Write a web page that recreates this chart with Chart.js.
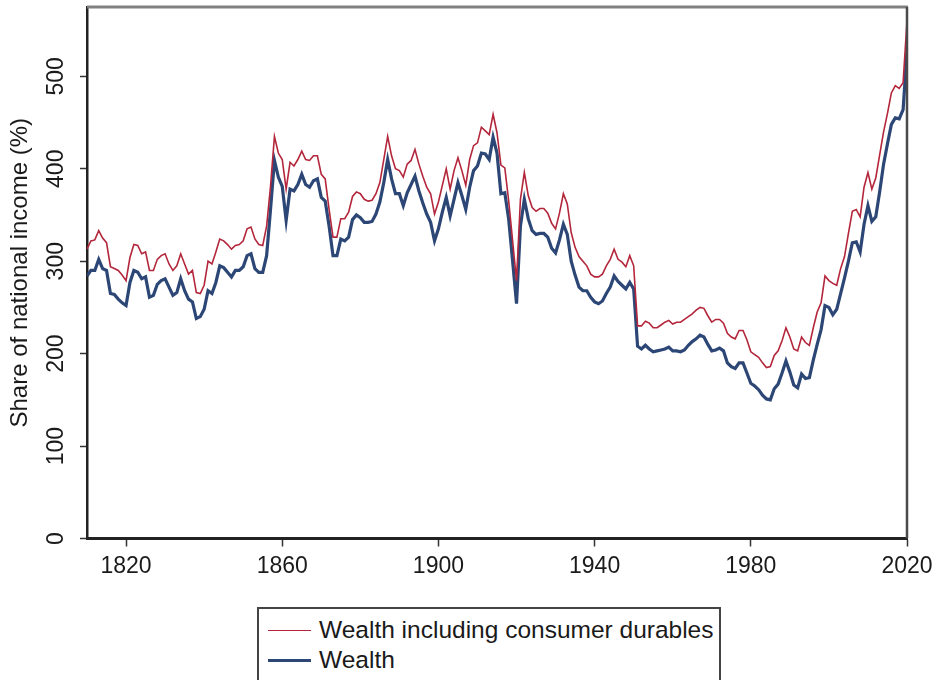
<!DOCTYPE html>
<html lang="en">
<head>
    <meta charset="UTF-8">
    <title>Wealth as share of national income</title>
    <script src="https://cdn.jsdelivr.net/npm/chart.js"></script>
    <style>
        body {
            margin: 0;
            width: 939px;
            height: 680px;
            overflow: hidden;
            background: #ffffff;
            font-family: 'Liberation Sans', Arial, sans-serif;
        }
        #wrap {
            position: absolute;
            left: 0;
            top: 0;
            width: 939px;
            height: 600px;
        }
        /* Legend box below the plot, cut off by the window like the original */
        #legend {
            position: absolute;
            left: 257px;
            top: 607px;
            width: 464px;
            height: 90px;
            border: 2px solid #444;
            box-sizing: border-box;
            padding-top: 6px;
        }
        .item {
            display: flex;
            align-items: center;
            height: 30px;
            font-size: 24.5px;
            color: #1a1a1a;
            white-space: nowrap;
        }
        .swatch {
            width: 43px;
            margin-left: 9px;
            margin-right: 8px;
        }
    </style>
</head>
<body>
    <div id="wrap"><canvas id="wealthChart"></canvas></div>
    <div id="legend"></div>

    <script>
        // Years
        const years = [
            1810, 1811, 1812, 1813, 1814, 1815, 1816, 1817, 1818, 1819,
            1820, 1821, 1822, 1823, 1824, 1825, 1826, 1827, 1828, 1829,
            1830, 1831, 1832, 1833, 1834, 1835, 1836, 1837, 1838, 1839,
            1840, 1841, 1842, 1843, 1844, 1845, 1846, 1847, 1848, 1849,
            1850, 1851, 1852, 1853, 1854, 1855, 1856, 1857, 1858, 1859,
            1860, 1861, 1862, 1863, 1864, 1865, 1866, 1867, 1868, 1869,
            1870, 1871, 1872, 1873, 1874, 1875, 1876, 1877, 1878, 1879,
            1880, 1881, 1882, 1883, 1884, 1885, 1886, 1887, 1888, 1889,
            1890, 1891, 1892, 1893, 1894, 1895, 1896, 1897, 1898, 1899,
            1900, 1901, 1902, 1903, 1904, 1905, 1906, 1907, 1908, 1909,
            1910, 1911, 1912, 1913, 1914, 1915, 1916, 1917, 1918, 1919,
            1920, 1921, 1922, 1923, 1924, 1925, 1926, 1927, 1928, 1929,
            1930, 1931, 1932, 1933, 1934, 1935, 1936, 1937, 1938, 1939,
            1940, 1941, 1942, 1943, 1944, 1945, 1946, 1947, 1948, 1949,
            1950, 1951, 1952, 1953, 1954, 1955, 1956, 1957, 1958, 1959,
            1960, 1961, 1962, 1963, 1964, 1965, 1966, 1967, 1968, 1969,
            1970, 1971, 1972, 1973, 1974, 1975, 1976, 1977, 1978, 1979,
            1980, 1981, 1982, 1983, 1984, 1985, 1986, 1987, 1988, 1989,
            1990, 1991, 1992, 1993, 1994, 1995, 1996, 1997, 1998, 1999,
            2000, 2001, 2002, 2003, 2004, 2005, 2006, 2007, 2008, 2009,
            2010, 2011, 2012, 2013, 2014, 2015, 2016, 2017, 2018, 2019,
            2020
        ];

        // Wealth including consumer durables (% of national income)
        const wealthDurables = [
            313, 322, 323, 333, 325, 320, 294, 292, 290, 285,
            279, 304, 318, 317, 308, 310, 290, 290, 302, 306,
            308, 297, 290, 295, 308, 297, 286, 290, 266, 265,
            274, 300, 297, 310, 324, 322, 318, 313, 317, 318,
            322, 335, 337, 324, 318, 317, 338, 381, 435, 417,
            410, 378, 407, 403, 410, 419, 410, 409, 414, 414,
            394, 389, 356, 326, 326, 346, 346, 353, 370, 375,
            373, 367, 365, 366, 373, 385, 410, 435, 414, 400,
            398, 391, 405, 409, 421, 405, 392, 380, 373, 351,
            364, 382, 400, 378, 398, 412, 398, 382, 410, 425,
            428, 445, 441, 437, 459, 439, 404, 401, 365, 322,
            279, 367, 396, 371, 358, 354, 357, 357, 352, 341,
            335, 352, 373, 362, 331, 315, 305, 300, 295, 286,
            283, 283, 286, 295, 302, 313, 302, 299, 294, 306,
            295, 230, 230, 235, 233, 228, 228, 231, 234, 236,
            232, 234, 234, 237, 240, 243, 247, 250, 249, 241,
            234, 237, 237, 233, 222, 218, 216, 225, 225, 215,
            202, 199, 196, 190, 185, 186, 198, 203, 214, 228,
            218, 205, 203, 218, 212, 209, 228, 245, 255, 284,
            279, 276, 274, 292, 305, 330, 354, 356, 348, 380,
            396, 378, 390, 415, 440, 460, 482, 490, 487, 493,
            560
        ];

        // Wealth (% of national income)
        const wealth = [
            284, 290, 290, 302, 292, 290, 265, 264, 259, 255,
            252, 277, 290, 288, 281, 283, 261, 263, 275, 279,
            281, 272, 263, 266, 281, 268, 259, 256, 238, 240,
            248, 268, 265, 277, 295, 293, 288, 283, 290, 290,
            294, 306, 308, 292, 288, 288, 306, 356, 409, 391,
            381, 344, 378, 376, 383, 394, 383, 380, 387, 389,
            369, 365, 338, 306, 306, 324, 322, 326, 345, 350,
            347, 342, 342, 343, 351, 364, 385, 410, 389, 373,
            373, 360, 374, 383, 392, 376, 363, 351, 342, 322,
            335, 353, 369, 349, 367, 385, 371, 356, 380, 398,
            403, 417, 416, 410, 434, 417, 373, 374, 345, 300,
            254, 338, 367, 346, 333, 329, 330, 330, 326, 314,
            309, 323, 340, 329, 300, 285, 272, 268, 268, 261,
            256, 254, 257, 265, 272, 284, 278, 274, 270, 277,
            270, 208, 205, 209, 205, 202, 203, 204, 205, 207,
            203, 203, 202, 204, 209, 213, 216, 220, 218, 210,
            203, 204, 206, 203, 190, 186, 184, 190, 190, 179,
            168, 165, 161, 155, 151, 150, 162, 167, 179, 192,
            180, 166, 163, 178, 173, 174, 193, 210, 226, 252,
            250, 242, 248, 265, 282, 300, 320, 321, 310, 340,
            360, 343, 348, 375, 405, 427, 448, 455, 454, 464,
            527
        ];

        const xTicks = [1820, 1860, 1900, 1940, 1980, 2020];
        const yTicks = [0, 100, 200, 300, 400, 500];

        const seriesLabels = ['Wealth including consumer durables', 'Wealth'];
        const seriesColors = ['#b3263b', '#2c4676'];
        const seriesWidths = [1.6, 3.2];

        const toPoints = vals => years.map((yr, i) => ({ x: yr, y: vals[i] }));

        // Top and right frame lines of the plot region
        const framePlugin = {
            id: 'frame',
            afterDraw(chart) {
                const { ctx, chartArea: a } = chart;
                ctx.save();
                ctx.strokeStyle = '#808080';
                ctx.lineWidth = 3;
                ctx.beginPath();
                ctx.moveTo(a.left, a.top);
                ctx.lineTo(a.right + 1, a.top);
                ctx.stroke();
                ctx.strokeStyle = '#4a4a4a';
                ctx.lineWidth = 2.5;
                ctx.beginPath();
                ctx.moveTo(a.right, a.top);
                ctx.lineTo(a.right, a.bottom);
                ctx.stroke();
                ctx.restore();
            }
        };

        Chart.defaults.font.family = "'Liberation Sans', Arial, sans-serif";
        Chart.defaults.color = '#1a1a1a';

        const ctx = document.getElementById('wealthChart').getContext('2d');
        new Chart(ctx, {
            type: 'line',
            data: {
                datasets: [
                    {
                        label: seriesLabels[0],
                        data: toPoints(wealthDurables),
                        borderColor: seriesColors[0],
                        borderWidth: seriesWidths[0],
                        pointRadius: 0,
                        tension: 0,
                        order: 1
                    },
                    {
                        label: seriesLabels[1],
                        data: toPoints(wealth),
                        borderColor: seriesColors[1],
                        borderWidth: seriesWidths[1],
                        pointRadius: 0,
                        tension: 0,
                        order: 2
                    }
                ]
            },
            options: {
                responsive: true,
                maintainAspectRatio: false,
                animation: false,
                layout: {
                    padding: { top: 7, right: 32, left: 0, bottom: 0 }
                },
                plugins: {
                    legend: { display: false },
                    tooltip: { enabled: false }
                },
                scales: {
                    x: {
                        type: 'linear',
                        min: 1810,
                        max: 2020,
                        afterBuildTicks: s => { s.ticks = xTicks.map(v => ({ value: v })); },
                        afterFit: s => { s.height = 61.5; },
                        grid: {
                            drawOnChartArea: false,
                            tickLength: 8,
                            tickWidth: 1.5,
                            tickColor: '#333'
                        },
                        border: { color: '#222', width: 3 },
                        ticks: {
                            font: { size: 23 },
                            padding: 6,
                            maxRotation: 0,
                            callback: v => String(v)
                        }
                    },
                    y: {
                        min: 0,
                        max: 575,
                        afterBuildTicks: s => { s.ticks = yTicks.map(v => ({ value: v })); },
                        afterFit: s => {
                            s.width = 87;
                            s.paddingTop = 0;
                            s.paddingBottom = 0;
                        },
                        grid: {
                            drawOnChartArea: false,
                            tickLength: 7,
                            tickWidth: 1.5,
                            tickColor: '#333'
                        },
                        border: { color: '#222', width: 2.5 },
                        ticks: {
                            font: { size: 23 },
                            padding: 4,
                            minRotation: 90,
                            maxRotation: 90,
                            crossAlign: 'center'
                        },
                        title: {
                            display: true,
                            text: 'Share of national income (%)',
                            font: { size: 24 },
                            padding: { top: 6, bottom: 0 }
                        }
                    }
                }
            },
            plugins: [framePlugin]
        });

        // Legend in a bordered box, two rows
        const legend = document.getElementById('legend');
        seriesLabels.forEach((label, i) => {
            const row = document.createElement('div');
            row.className = 'item';
            const sw = document.createElement('span');
            sw.className = 'swatch';
            sw.style.borderTop = seriesWidths[i] + 'px solid ' + seriesColors[i];
            const txt = document.createElement('span');
            txt.textContent = label;
            row.appendChild(sw);
            row.appendChild(txt);
            legend.appendChild(row);
        });
    </script>
</body>
</html>
